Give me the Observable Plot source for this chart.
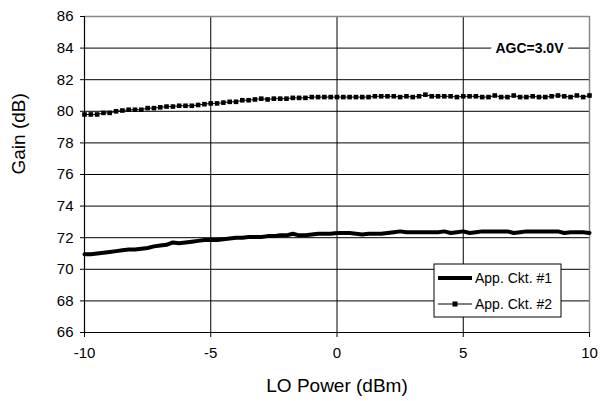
<!DOCTYPE html>
<html>
<head>
<meta charset="utf-8">
<script src="https://cdn.jsdelivr.net/npm/d3@7"></script>
<script src="https://cdn.jsdelivr.net/npm/@observablehq/plot@0.6"></script>
<style>
  html, body { margin: 0; padding: 0; background: #fff; }
  #chart { position: relative; width: 600px; height: 401px; }
  svg { font-family: "Liberation Sans", Arial, sans-serif; }
</style>
</head>
<body>
<div id="chart"></div>
<script>
const loPower = [-10,-9.75,-9.5,-9.25,-9,-8.75,-8.5,-8.25,-8,-7.75,-7.5,-7.25,-7,-6.75,-6.5,-6.25,-6,-5.75,-5.5,-5.25,-5,-4.75,-4.5,-4.25,-4,-3.75,-3.5,-3.25,-3,-2.75,-2.5,-2.25,-2,-1.75,-1.5,-1.25,-1,-0.75,-0.5,-0.25,0,0.25,0.5,0.75,1,1.25,1.5,1.75,2,2.25,2.5,2.75,3,3.25,3.5,3.75,4,4.25,4.5,4.75,5,5.25,5.5,5.75,6,6.25,6.5,6.75,7,7.25,7.5,7.75,8,8.25,8.5,8.75,9,9.25,9.5,9.75,10];

const gainCkt1 = [70.95,70.95,71.0,71.05,71.1,71.15,71.2,71.25,71.25,71.3,71.35,71.45,71.5,71.55,71.7,71.65,71.7,71.75,71.8,71.85,71.85,71.85,71.9,71.95,72.0,72.0,72.05,72.05,72.05,72.1,72.1,72.15,72.15,72.25,72.15,72.15,72.2,72.25,72.25,72.25,72.3,72.3,72.3,72.25,72.2,72.25,72.25,72.25,72.3,72.35,72.4,72.35,72.35,72.35,72.35,72.35,72.35,72.4,72.3,72.35,72.4,72.3,72.35,72.4,72.4,72.4,72.4,72.4,72.3,72.35,72.4,72.4,72.4,72.4,72.4,72.4,72.3,72.35,72.35,72.35,72.3];

const gainCkt2 = [79.8,79.8,79.8,79.9,79.9,80.0,80.05,80.1,80.1,80.1,80.2,80.2,80.25,80.3,80.3,80.35,80.35,80.35,80.4,80.45,80.5,80.5,80.55,80.6,80.6,80.7,80.7,80.75,80.8,80.75,80.8,80.8,80.8,80.85,80.85,80.85,80.9,80.9,80.9,80.9,80.9,80.9,80.9,80.9,80.9,80.9,80.95,80.95,80.95,80.95,80.9,80.95,80.9,80.95,81.05,80.95,80.95,80.95,80.95,80.9,80.95,80.95,80.95,80.9,80.9,81.0,80.9,80.9,81.0,80.9,80.9,80.95,80.9,80.9,80.95,81.0,80.95,80.9,81.0,80.9,81.0];

const seriesNames = ["App. Ckt. #1", "App. Ckt. #2"];
const xTicks = [-10, -5, 0, 5, 10];
const yTicks = [66, 68, 70, 72, 74, 76, 78, 80, 82, 84, 86];
const xTitle = "LO Power (dBm)";
const yTitle = "Gain (dB)";
const annotation = "AGC=3.0V";

const d1 = loPower.map((x, i) => ({x, y: gainCkt1[i]}));
const d2 = loPower.map((x, i) => ({x, y: gainCkt2[i]}));

const chart = Plot.plot({
  width: 600,
  height: 401,
  marginLeft: 84,
  marginRight: 11,
  marginTop: 16,
  marginBottom: 69,
  style: {fontFamily: '"Liberation Sans", Arial, sans-serif', background: "#fff", color: "#000"},
  x: {domain: [-10, 10]},
  y: {domain: [66, 86]},
  marks: [
    Plot.gridY(yTicks, {stroke: "#000", strokeOpacity: 1, strokeWidth: 1}),
    Plot.gridX(xTicks, {stroke: "#000", strokeOpacity: 1, strokeWidth: 1}),
    Plot.ruleY([86], {stroke: "#888", strokeWidth: 1.5}),
    Plot.ruleX([10], {stroke: "#888", strokeWidth: 1.5}),
    Plot.ruleY([66], {stroke: "#000", strokeWidth: 1.2}),
    Plot.ruleX([-10], {stroke: "#000", strokeWidth: 1.2}),
    Plot.axisY(yTicks, {tickSize: 4, tickPadding: 7, fontSize: 15, label: null, stroke: "#000", tickFormat: d => String(d)}),
    Plot.axisX(xTicks, {tickSize: 5, tickPadding: 10, fontSize: 15, label: null, stroke: "#000", tickFormat: d => String(d)}),
    Plot.text([xTitle], {frameAnchor: "bottom", dy: 53, fontSize: 19, lineAnchor: "middle", fill: "#000"}),
    Plot.text([yTitle], {frameAnchor: "left", dx: -66, rotate: -90, fontSize: 19, lineAnchor: "middle", fill: "#000"}),
    Plot.line(d2, {x: "x", y: "y", stroke: "#000", strokeWidth: 1}),
    Plot.dot(d2, {x: "x", y: "y", symbol: "square", r: 2.6, fill: "#000", stroke: "none"}),
    Plot.line(d1, {x: "x", y: "y", stroke: "#000", strokeWidth: 4, strokeLinejoin: "round"}),
    Plot.text([annotation], {frameAnchor: "top-right", dx: -26, dy: 32, fontSize: 14, fontWeight: "bold", textAnchor: "end", lineAnchor: "middle", fill: "#000", stroke: "#fff", strokeWidth: 12, paintOrder: "stroke", letterSpacing: "-0.6px"})
  ]
});

document.getElementById("chart").appendChild(chart);

// legend drawn inside the SVG
const svg = d3.select(chart);
const lg = svg.append("g").attr("transform", "translate(434,264)");
lg.append("rect").attr("width", 127).attr("height", 53).attr("fill", "#fff").attr("stroke", "#000").attr("stroke-width", 1);
const rows = [{name: seriesNames[0], w: 4, marker: false}, {name: seriesNames[1], w: 1, marker: true}];
rows.forEach((r, i) => {
  const cy = 14 + i * 26;
  lg.append("line").attr("x1", 4).attr("x2", 38).attr("y1", cy).attr("y2", cy).attr("stroke", "#000").attr("stroke-width", r.w);
  if (r.marker) lg.append("rect").attr("x", 18.5).attr("y", cy - 2.5).attr("width", 5).attr("height", 5).attr("fill", "#000");
  lg.append("text").attr("x", 41).attr("y", cy).attr("dy", "0.35em").attr("text-anchor", "start").attr("font-size", 14).attr("fill", "#000").text(r.name);
});
</script>
</body>
</html>
